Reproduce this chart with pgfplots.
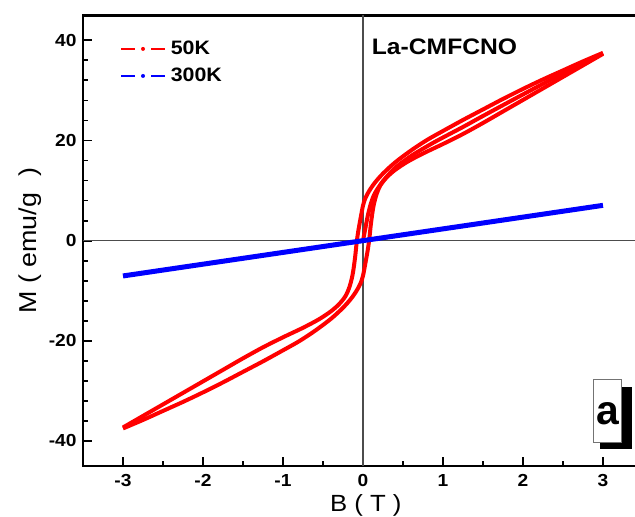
\documentclass[border=0pt]{standalone}
\usepackage{pgfplots}
\pgfplotsset{compat=1.18}
\usepackage{fontspec}
\setmainfont[FakeStretch=1.1]{Liberation Sans}
\newfontfamily\plainarial{Liberation Sans}
\begin{document}
\begin{tikzpicture}
\useasboundingbox (-83bp,-51bp) rectangle (552bp,466bp);
\begin{axis}[
  at={(0,0)}, anchor=south west,
  width=560bp, height=450.7bp, scale only axis,
  xmin=-3.5, xmax=3.5, ymin=-45, ymax=45,
  xtick={-3,-2,-1,0,1,2,3}, xticklabels={-3,-2,-1,0,1,2,3},
  ytick={-40,-20,0,20,40}, yticklabels={-40,-20,0,20,40},
  minor x tick num=1, minor y tick num=4,
  xtick pos=left, ytick pos=left,
  tick align=inside,
  major tick length=9bp, minor tick length=5bp,
  every tick/.style={black, line width=1.8bp},
  axis line style={line width=2.5bp},
  tick label style={font=\bfseries\fontsize{17.5}{17.5}\selectfont},
  xticklabel style={yshift=-5bp},
  yticklabel style={xshift=-3bp},
  xlabel={B ( T )}, ylabel={M ( emu/g\hspace{9bp} )},
  label style={font=\fontsize{23.5}{23.5}\selectfont},
  ylabel style={font=\fontsize{24.5}{24.5}\selectfont},
  xlabel style={at={(axis description cs:0.505,-0.088)}, anchor=center},
  ylabel style={at={(axis description cs:-0.0946,0.5)}, anchor=center},
  legend style={at={(axis description cs:0.066,0.947)}, anchor=north west,
    draw=none, fill=none, inner sep=0pt, row sep=8bp, column sep=3bp,
    font=\bfseries\fontsize{19.5}{19.5}\selectfont},
  legend cell align=left,
  legend image code/.code={
    \draw[#1, solid, line width=1.7bp] (0bp,0bp) -- (14bp,0bp);
    \fill[#1, draw=none] (22bp,0bp) circle (2bp);
    \draw[#1, solid, line width=1.7bp] (30bp,0bp) -- (44bp,0bp);
  },
]
\draw[line width=1.1bp, black!70] (axis cs:0,-45) -- (axis cs:0,45);
\draw[line width=1.1bp, black!70] (axis cs:-3.5,0) -- (axis cs:3.5,0);

% descending branch
\addplot[red, line width=4bp, smooth] coordinates {
(3.0,37.5) (2.75,35.8) (2.5,34.0) (2.25,32.2) (2.0,30.3) (1.75,28.3) (1.5,26.2)
(1.25,24.1) (1.0,21.9) (0.8,20.1) (0.6,18.0) (0.4,15.6) (0.25,13.4) (0.15,11.6)
(0.08,10.0) (0.03,8.5) (0.0,7.0) (-0.03,4.5) (-0.06,1.8) (-0.08,-0.5) (-0.1,-3.5)
(-0.13,-6.8) (-0.17,-9.3) (-0.22,-11.1) (-0.3,-12.7) (-0.4,-14.1) (-0.55,-15.7)
(-0.75,-17.4) (-1.0,-19.3) (-1.25,-21.3) (-1.5,-23.5) (-1.75,-25.8) (-2.0,-28.1)
(-2.25,-30.4) (-2.5,-32.7) (-2.75,-35.0) (-3.0,-37.3)
};
\addlegendentry{50K}
% ascending branch
\addplot[red, line width=4bp, smooth, forget plot] coordinates {
(-3.0,-37.5) (-2.75,-35.8) (-2.5,-34.0) (-2.25,-32.2) (-2.0,-30.3) (-1.75,-28.3) (-1.5,-26.2)
(-1.25,-24.1) (-1.0,-21.9) (-0.8,-20.1) (-0.6,-18.0) (-0.4,-15.6) (-0.25,-13.4) (-0.15,-11.6)
(-0.08,-10.0) (-0.03,-8.5) (0.0,-7.0) (0.03,-4.5) (0.06,-1.8) (0.08,0.5) (0.1,3.5)
(0.13,6.8) (0.17,9.3) (0.22,11.1) (0.3,12.7) (0.4,14.1) (0.55,15.7)
(0.75,17.4) (1.0,19.3) (1.25,21.3) (1.5,23.5) (1.75,25.8) (2.0,28.1)
(2.25,30.4) (2.5,32.7) (2.75,35.0) (3.0,37.3)
};
% virgin curve
\addplot[red, line width=4bp, smooth, forget plot] coordinates {
(0,0) (0.03,2.5) (0.06,5.0) (0.1,7.5) (0.15,9.5) (0.25,11.9) (0.4,14.5) (0.6,16.9)
(0.84,19.2) (1.0,20.6) (1.25,22.7) (1.5,24.9) (2.0,29.2) (2.5,33.4) (3.0,37.4)
};
% 300K
\addplot[blue, line width=5bp] coordinates {
(-3,-7.05) (-2,-4.7) (-1,-2.35) (0,0) (1,2.35) (2,4.7) (3,7.05)
};
\addlegendentry{300K}

\node[anchor=west, inner sep=0pt, font=\bfseries\fontsize{22.5}{22.5}\selectfont] at (axis cs:0.109,38.66) {La-CMFCNO};

\fill[black] (axis cs:2.9625,-29.15) rectangle (axis cs:3.359,-41.6);
\filldraw[fill=white, draw=black!55, line width=0.8bp] (axis cs:2.879,-27.8) rectangle (axis cs:3.234,-40.28);
\node[inner sep=0pt, font=\plainarial\bfseries\fontsize{41}{41}\selectfont] at (axis cs:3.06,-34.6) {a};
\end{axis}
\end{tikzpicture}
\end{document}
